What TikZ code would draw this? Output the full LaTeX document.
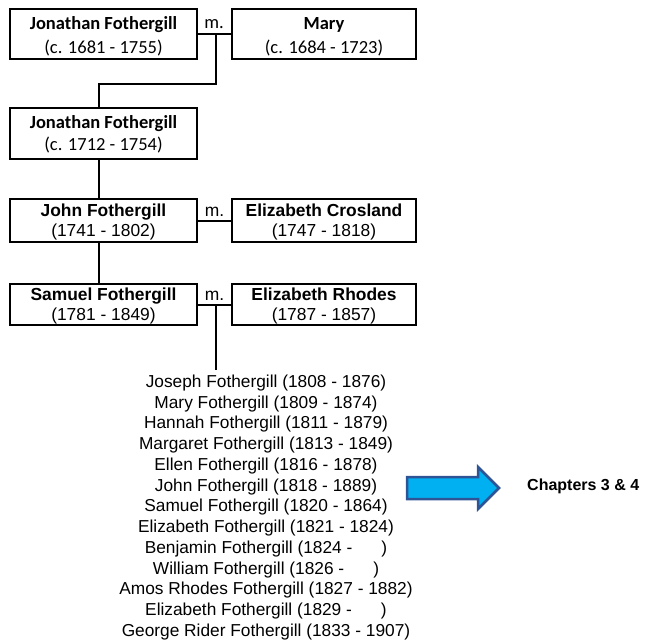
\documentclass[tikz,border=0pt]{standalone}
\usepackage{fontspec}
\setmainfont{Liberation Sans}
\newfontfamily\calibfont{Carlito}
\definecolor{arrowfill}{HTML}{00B0F0}
\definecolor{arrowline}{HTML}{2F5496}
\begin{document}
\begin{tikzpicture}[x=1pt,y=-1pt,
  box/.style={draw=black,line width=2pt,rectangle,inner sep=0pt,outer sep=0pt},
  conn/.style={draw=black,line width=2pt},
  ctxt/.style={anchor=base,inner sep=0pt,font=\calibfont\fontsize{18.5}{22}\selectfont},
  ctxtb/.style={ctxt,font=\calibfont\bfseries\fontsize{18.5}{22}\selectfont},
  atxt/.style={anchor=base,inner sep=0pt,font=\fontsize{17.4}{21}\selectfont},
  atxtb/.style={atxt,font=\bfseries\fontsize{17.4}{21}\selectfont},
  kid/.style={anchor=base,inner sep=0pt,font=\fontsize{17.3}{21}\selectfont}]
\useasboundingbox (0,0) rectangle (645,640);
% boxes
\node[box,minimum width=187pt,minimum height=50pt] (jf1) at (103.5,34.3) {};
\node[box,minimum width=184pt,minimum height=50pt] (mary) at (324,34.3) {};
\node[box,minimum width=187pt,minimum height=50.5pt] (jf2) at (103.5,133.7) {};
\node[box,minimum width=187pt,minimum height=42.4pt] (john) at (103.5,220.5) {};
\node[box,minimum width=184pt,minimum height=42.4pt] (ecros) at (324,220.5) {};
\node[box,minimum width=187pt,minimum height=41pt] (sam) at (103.5,304.5) {};
\node[box,minimum width=184pt,minimum height=41pt] (erho) at (324,304.5) {};
% texts
\node[ctxtb] (t1a) at (103.5,29.3) {Jonathan Fothergill};
\node[ctxt] (t1b) at (103.5,53.3) {(c. 1681 - 1755)};
\node[ctxtb] (t2a) at (324,29.3) {Mary};
\node[ctxt] (t2b) at (324,53.3) {(c. 1684 - 1723)};
\node[ctxt] (m1l) at (214,28.3) {m.};
\node[ctxtb] (t3a) at (103.5,128.3) {Jonathan Fothergill};
\node[ctxt] (t3b) at (103.5,150.7) {(c. 1712 - 1754)};
\node[atxtb] (t4a) at (103.5,216.7) {John Fothergill};
\node[atxt] (t4b) at (103.5,236.7) {(1741 - 1802)};
\node[atxtb] (t5a) at (324,216.7) {Elizabeth Crosland};
\node[atxt] (t5b) at (324,236.7) {(1747 - 1818)};
\node[atxt] (m2l) at (214.5,216.7) {m.};
\node[atxtb] (t6a) at (103.5,300.7) {Samuel Fothergill};
\node[atxt] (t6b) at (103.5,320.3) {(1781 - 1849)};
\node[atxtb] (t7a) at (324,300.7) {Elizabeth Rhodes};
\node[atxt] (t7b) at (324,320.3) {(1787 - 1857)};
\node[atxt] (m3l) at (214.5,300.3) {m.};
% children
\foreach \t [count=\i from 0] in {
  Joseph Fothergill (1808 - 1876),
  Mary Fothergill (1809 - 1874),
  Hannah Fothergill (1811 - 1879),
  Margaret Fothergill (1813 - 1849),
  Ellen Fothergill (1816 - 1878),
  John Fothergill (1818 - 1889),
  Samuel Fothergill (1820 - 1864),
  Elizabeth Fothergill (1821 - 1824),
  Benjamin Fothergill (1824 - \hspace{1.4em}),
  William Fothergill (1826 - \hspace{1.4em}),
  Amos Rhodes Fothergill (1827 - 1882),
  Elizabeth Fothergill (1829 - \hspace{1.4em}),
  George Rider Fothergill (1833 - 1907)}
  \node[kid] (kid\i) at (266,387.3+\i*20.75) {\t};
% connectors
\draw[conn] (jf1.east) -- (mary.west);
\coordinate (c1) at (216,34.3);
\draw[conn] (c1) -- ++(0,50) -| ([xshift=-4.5pt]jf2.north);
\draw[conn] ([xshift=-4.5pt]jf2.south) -- ([xshift=-4.5pt]john.north);
\draw[conn] (john.east) -- (ecros.west);
\draw[conn] ([xshift=-4.5pt]john.south) -- ([xshift=-4.5pt]sam.north);
\draw[conn] (sam.east) -- (erho.west);
\coordinate (c2) at (216,304.5);
\coordinate (c3) at (216,370);
\draw[conn] (c2) -- (c3);
% arrow
\draw[fill=arrowfill,draw=arrowline,line width=2.5pt,line join=miter]
  (407,477) -- (478,477) -- (478,467) -- (499,488) -- (478,509) -- (478,499) -- (407,499) -- cycle;
\node[anchor=base west,inner sep=0pt,font=\bfseries\fontsize{16}{19}\selectfont] (chap) at (527,490) {Chapters 3 \& 4};
\end{tikzpicture}
\end{document}
